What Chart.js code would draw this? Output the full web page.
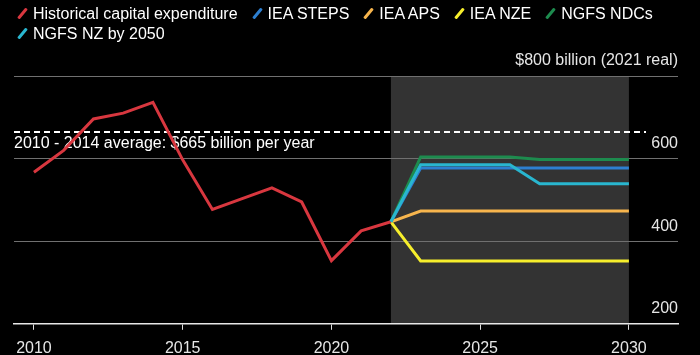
<!DOCTYPE html>
<html><head><meta charset="utf-8">
<script src="https://cdn.jsdelivr.net/npm/chart.js@4/dist/chart.umd.min.js"></script>
<style>
html,body{margin:0;padding:0;background:#000;}
#wrap{position:relative;width:700px;height:355px;overflow:hidden;}
canvas{position:absolute;left:0;top:0;}
#legend{position:absolute;left:13px;top:4px;width:685px;font:16px 'Liberation Sans',Arial,sans-serif;color:#fff;line-height:20px;}
.item{display:inline-block;white-space:nowrap;margin-right:10px;}
.mk{display:inline-block;width:3px;height:13px;border-radius:1px;transform:rotate(40deg);margin:0 9px 0 8px;vertical-align:-1px;}
</style></head>
<body><div id="wrap"><canvas id="c" width="700" height="355"></canvas><div id="legend"></div></div>
<script>
// ---- data ----
const histYears = [2010, 2011, 2012, 2013, 2014, 2015, 2016, 2017, 2018, 2019, 2020, 2021, 2022];
const histCapex = [567, 620, 696, 710, 736, 597, 477, 503, 529, 495, 353, 425, 447];
const projYears = [2022, 2023, 2024, 2025, 2026, 2027, 2028, 2029, 2030];
const ieaSteps  = [447, 577, 577, 577, 577, 577, 577, 577, 577];
const ieaAps    = [447, 473, 473, 473, 473, 473, 473, 473, 473];
const ieaNze    = [447, 352, 352, 352, 352, 352, 352, 352, 352];
const ngfsNdcs  = [447, 604, 604, 604, 604, 598, 598, 598, 598];
const ngfsNz    = [447, 585, 585, 585, 585, 539, 539, 539, 539];
const seriesLabels = ['Historical capital expenditure', 'IEA STEPS', 'IEA APS', 'IEA NZE', 'NGFS NDCs', 'NGFS NZ by 2050'];
const seriesColors = ['#d8373f', '#2d7fd0', '#f7b54d', '#f6ee2c', '#1d8b4e', '#29b6cf'];
const xTickValues = [2010, 2015, 2020, 2025, 2030];
const yTickValues = [200, 400, 600, 800];
const topTickLabel = '$800 billion (2021 real)';
const avgValue = 665;
const avgLabel = '2010 - 2014 average: $665 billion per year';
const projStart = 2022, projEnd = 2030;

const FONT = "'Liberation Sans', Arial, sans-serif";
const toXY = (xs, ys) => xs.map((x, i) => ({x, y: ys[i]}));
const allSeries = [toXY(histYears, histCapex), toXY(projYears, ieaSteps), toXY(projYears, ieaAps),
                   toXY(projYears, ieaNze), toXY(projYears, ngfsNdcs), toXY(projYears, ngfsNz)];
const drawOrder = [1, 5, 4, 3, 2, 0];

const datasets = allSeries.map((d, i) => ({
  label: seriesLabels[i], data: d, borderColor: seriesColors[i], backgroundColor: seriesColors[i],
  borderWidth: 3, pointRadius: 0, tension: 0, fill: false, order: drawOrder[i]
}));

// legend
const lg = document.getElementById('legend');
seriesLabels.forEach((l, i) => {
  const s = document.createElement('span'); s.className = 'item';
  const m = document.createElement('span'); m.className = 'mk'; m.style.background = seriesColors[i];
  s.appendChild(m); s.appendChild(document.createTextNode(l)); lg.appendChild(s);
});

const bgPlugin = {
  id: 'bg',
  beforeDraw(chart) {
    const {ctx, chartArea: a, scales: {x}} = chart;
    const x0 = x.getPixelForValue(projStart), x1 = x.getPixelForValue(projEnd);
    ctx.save(); ctx.fillStyle = '#333333'; ctx.fillRect(x0, a.top, x1 - x0, a.bottom - a.top); ctx.restore();
  },
  beforeDatasetsDraw(chart) {
    const {ctx, chartArea: a, scales: {y}} = chart;
    const py = Math.round(y.getPixelForValue(avgValue));
    ctx.save();
    ctx.strokeStyle = '#ffffff'; ctx.lineWidth = 2; ctx.setLineDash([6, 4]);
    ctx.beginPath(); ctx.moveTo(a.left, py); ctx.lineTo(a.right - 32, py); ctx.stroke();
    ctx.setLineDash([]);
    ctx.fillStyle = '#ffffff'; ctx.font = '16px ' + FONT; ctx.textBaseline = 'middle'; ctx.textAlign = 'left';
    ctx.fillText(avgLabel, a.left, py + 12);
    ctx.restore();
  }
};

new Chart(document.getElementById('c'), {
  type: 'line',
  data: {datasets},
  plugins: [bgPlugin],
  options: {
    responsive: false, animation: false, devicePixelRatio: 1,
    layout: {padding: {left: 14, right: 22, top: 76, bottom: -12}},
    plugins: {legend: {display: false}, tooltip: {enabled: false}},
    scales: {
      x: {
        type: 'linear', min: 2009.33, max: 2031.65,
        afterBuildTicks: s => { s.ticks = xTickValues.map(v => ({value: v})); },
        grid: {display: true, drawOnChartArea: false, drawTicks: true, tickLength: 6, color: '#dddddd', lineWidth: 1},
        border: {display: true, color: '#e8e8e8', width: 1.5},
        ticks: {padding: 9, color: '#e6e6e6', font: {family: FONT, size: 16}, callback: v => String(v), maxRotation: 0, autoSkip: false}
      },
      y: {
        type: 'linear', position: 'right', min: 200, max: 800,
        afterBuildTicks: s => { s.ticks = yTickValues.map(v => ({value: v})); },
        grid: {drawTicks: false, color: c => (c.tick && c.tick.value === 200) ? 'rgba(0,0,0,0)' : '#707070', lineWidth: 1},
        border: {display: false},
        ticks: {mirror: true, padding: 0, labelOffset: -15, color: '#e6e6e6', font: {family: FONT, size: 16},
                callback: v => v === 800 ? topTickLabel : String(v)}
      }
    }
  }
});
</script>
</body></html>
